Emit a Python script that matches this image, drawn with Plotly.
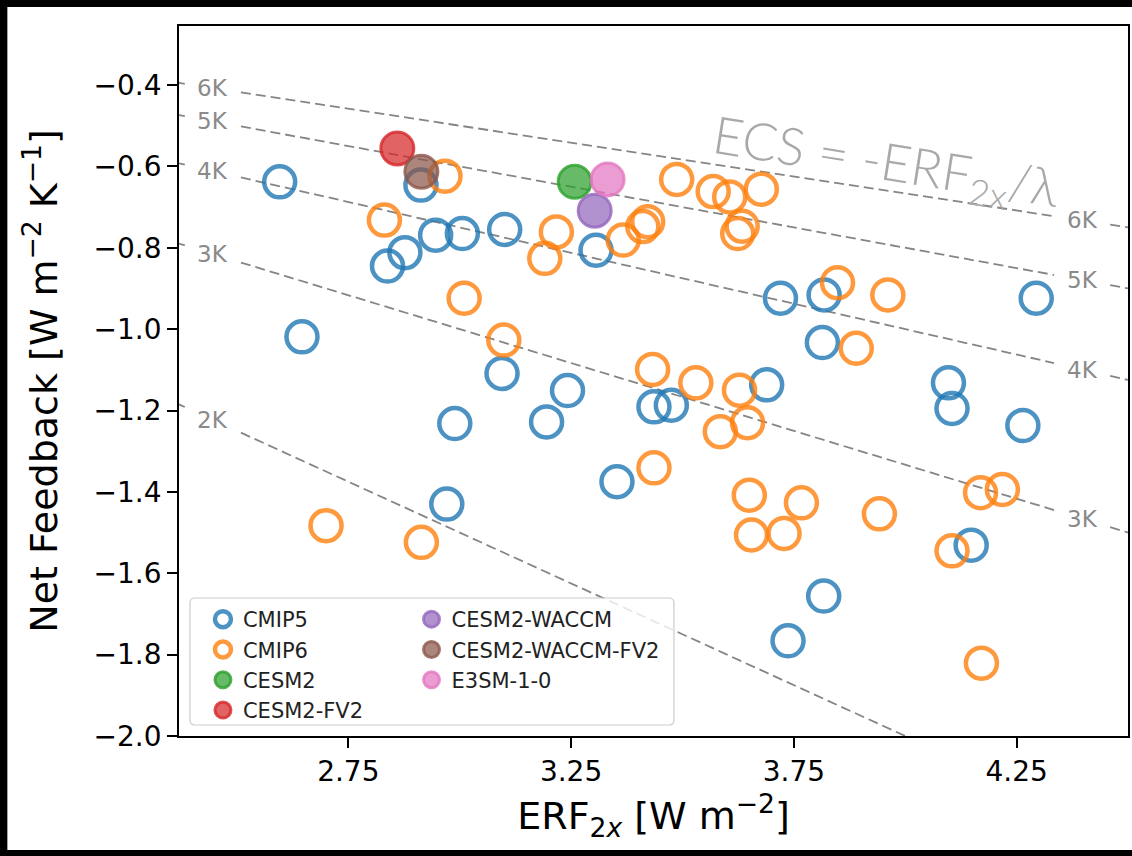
import plotly.graph_objects as go

# ---------------- data ----------------
cmip5_erf = [2.596, 2.646, 2.838, 2.877, 2.913, 2.946, 3.006, 3.101, 3.306, 3.095,
             3.242, 2.989, 3.195, 3.353, 2.971, 3.436, 3.475, 3.720, 3.818, 3.814,
             3.689, 4.097, 4.105, 4.264, 4.294, 4.148, 3.817, 3.737]
cmip5_fb = [-0.638, -1.019, -0.845, -0.812, -0.646, -0.769, -0.765, -0.755, -0.806, -1.109,
            -1.151, -1.232, -1.228, -1.375, -1.430, -1.191, -1.187, -0.924, -0.916, -1.033,
            -1.137, -1.132, -1.195, -1.237, -0.924, -1.531, -1.656, -1.766]

cmip6_erf = [2.831, 2.967, 3.191, 3.217, 3.010, 3.099, 3.367, 3.411, 3.422, 3.487,
             3.569, 3.606, 3.677, 3.624, 3.634, 3.848, 3.890, 3.961, 3.433, 3.530,
             3.628, 3.585, 3.646, 3.436, 3.650, 3.767, 3.655, 3.728, 3.942, 4.169,
             4.218, 4.105, 4.171, 2.700, 2.914]
cmip6_fb = [-0.732, -0.624, -0.826, -0.761, -0.924, -1.027, -0.781, -0.748, -0.736, -0.632,
            -0.662, -0.675, -0.656, -0.765, -0.747, -0.886, -1.047, -0.916, -1.099, -1.132,
            -1.150, -1.252, -1.230, -1.341, -1.408, -1.427, -1.506, -1.502, -1.454, -1.402,
            -1.394, -1.545, -1.821, -1.483, -1.524]

highlight_models = ["CESM2", "CESM2-FV2", "CESM2-WACCM", "CESM2-WACCM-FV2", "E3SM-1-0"]
highlight_erf = [3.258, 2.860, 3.303, 2.914, 3.332]
highlight_fb = [-0.638, -0.556, -0.709, -0.613, -0.632]
highlight_rgb = [(44, 160, 44), (214, 39, 40), (148, 103, 189), (140, 86, 75), (227, 119, 194)]

ecs_levels = [2, 3, 4, 5, 6]
x_range = [2.37, 4.50]
y_range = [-2.0, -0.255]
x_ticks = [2.75, 3.25, 3.75, 4.25]
y_ticks = [-2.0, -1.8, -1.6, -1.4, -1.2, -1.0, -0.8, -0.6, -0.4]

label_x_left = 2.446
label_x_right = 4.397
label_gap = 0.063

FONT = "DejaVu Sans"

fig = go.Figure()

# ---------------- ECS isolines ----------------
for ecs in ecs_levels:
    right_in = (-label_x_right / ecs) >= y_range[0]
    breaks = [x_range[0], label_x_left - label_gap, None, label_x_left + label_gap]
    if right_in:
        breaks += [label_x_right - label_gap, None, label_x_right + label_gap]
    breaks += [x_range[1]]
    xs, ys = [], []
    for b in breaks:
        if b is None:
            xs.append(None)
            ys.append(None)
        else:
            xs.append(b)
            ys.append(-b / ecs)
    fig.add_trace(go.Scatter(x=xs, y=ys, mode="lines", showlegend=False, hoverinfo="skip",
                             line=dict(color="rgba(120,120,120,0.9)", width=1.8, dash="10px,5px")))
    fig.add_annotation(x=label_x_left, y=-label_x_left / ecs, text=f"{ecs}K", showarrow=False,
                       font=dict(family=FONT, size=23, color="#8a8a8a"), xanchor="center", yanchor="middle")
    if right_in:
        fig.add_annotation(x=label_x_right, y=-label_x_right / ecs, text=f"{ecs}K", showarrow=False,
                           font=dict(family=FONT, size=23, color="#8a8a8a"), xanchor="center", yanchor="middle")

# ---------------- scatter ----------------
fig.add_trace(go.Scatter(
    x=cmip5_erf, y=cmip5_fb, mode="markers", name="CMIP5", legend="legend",
    marker=dict(size=31, color="rgba(0,0,0,0)", line=dict(color="rgba(31,119,180,0.8)", width=4.5))))
fig.add_trace(go.Scatter(
    x=cmip6_erf, y=cmip6_fb, mode="markers", name="CMIP6", legend="legend",
    marker=dict(size=31, color="rgba(0,0,0,0)", line=dict(color="rgba(255,127,14,0.8)", width=4.5))))

for i, (name, xe, yf, rgb) in enumerate(zip(highlight_models, highlight_erf, highlight_fb, highlight_rgb)):
    r, g, b = rgb
    fig.add_trace(go.Scatter(
        x=[xe], y=[yf], mode="markers", name=name,
        legend="legend" if i < 2 else "legend2",
        marker=dict(size=33, color=f"rgba({r},{g},{b},0.72)",
                    line=dict(color=f"rgba({r},{g},{b},0.8)", width=3))))

# ---------------- ECS formula text ----------------
fig.add_annotation(x=3.956, y=-0.595, text="ECS = -ERF<sub>2x</sub>/λ", showarrow=False,
                   textangle=9, font=dict(family="Lato", size=52, color="#a9a9a9", weight=300),
                   xanchor="center", yanchor="middle")

# ---------------- layout ----------------
W, H = 1132, 856
L, R, T, B = 179, 2, 26, 120
pw, ph = W - L - R, H - T - B


def px_x(p):
    return (p - L) / pw


def px_y(p):
    return (H - B - p) / ph


# legend frame (rounded)
bx0, bx1, by0, by1 = px_x(190), px_x(675), px_y(725), px_y(598)
rx, ry = 5 / pw, 5 / ph
frame_path = (f"M {bx0+rx},{by0} L {bx1-rx},{by0} Q {bx1},{by0} {bx1},{by0+ry} "
              f"L {bx1},{by1-ry} Q {bx1},{by1} {bx1-rx},{by1} L {bx0+rx},{by1} "
              f"Q {bx0},{by1} {bx0},{by1-ry} L {bx0},{by0+ry} Q {bx0},{by0} {bx0+rx},{by0} Z")

fig.update_layout(
    width=W, height=H,
    margin=dict(l=L, r=R, t=T, b=B),
    paper_bgcolor="black",
    plot_bgcolor="white",
    font=dict(family=FONT, color="black"),
    shapes=[
        dict(type="rect", xref="paper", yref="paper", x0=px_x(7), x1=px_x(1140), y0=px_y(850), y1=px_y(7),
             fillcolor="white", line=dict(width=0), layer="below"),
        dict(type="path", xref="paper", yref="paper", path=frame_path,
             fillcolor="rgba(255,255,255,0.8)", line=dict(color="#cccccc", width=1.2), layer="above"),
    ],
    legend=dict(x=px_x(203), y=px_y(599), xanchor="left", yanchor="top", bgcolor="rgba(0,0,0,0)",
                borderwidth=0, font=dict(family=FONT, size=21, color="#222"), tracegroupgap=0),
    legend2=dict(x=px_x(412), y=px_y(599), xanchor="left", yanchor="top", bgcolor="rgba(0,0,0,0)",
                 borderwidth=0, font=dict(family=FONT, size=21, color="#222"), tracegroupgap=0),
    xaxis=dict(range=x_range, tickvals=x_ticks, ticktext=[f"{v:.2f}" for v in x_ticks],
               ticks="outside", ticklen=10, tickwidth=1.5, tickcolor="black",
               showline=True, linecolor="black", linewidth=1.6, mirror=True,
               showgrid=False, zeroline=False, tickfont=dict(size=28),
               title=dict(text="ERF<sub>2<i>x</i></sub> [W m<sup>−2</sup>]", font=dict(size=38), standoff=12)),
    yaxis=dict(range=y_range, tickvals=y_ticks, tickformat=".1f",
               ticks="outside", ticklen=10, tickwidth=1.5, tickcolor="black",
               showline=True, linecolor="black", linewidth=1.6, mirror=True,
               showgrid=False, zeroline=False, tickfont=dict(size=28),
               title=dict(text="Net Feedback [W m<sup>−2</sup> K<sup>−1</sup>]", font=dict(size=38), standoff=24)),
)

fig.write_html("out.html")
